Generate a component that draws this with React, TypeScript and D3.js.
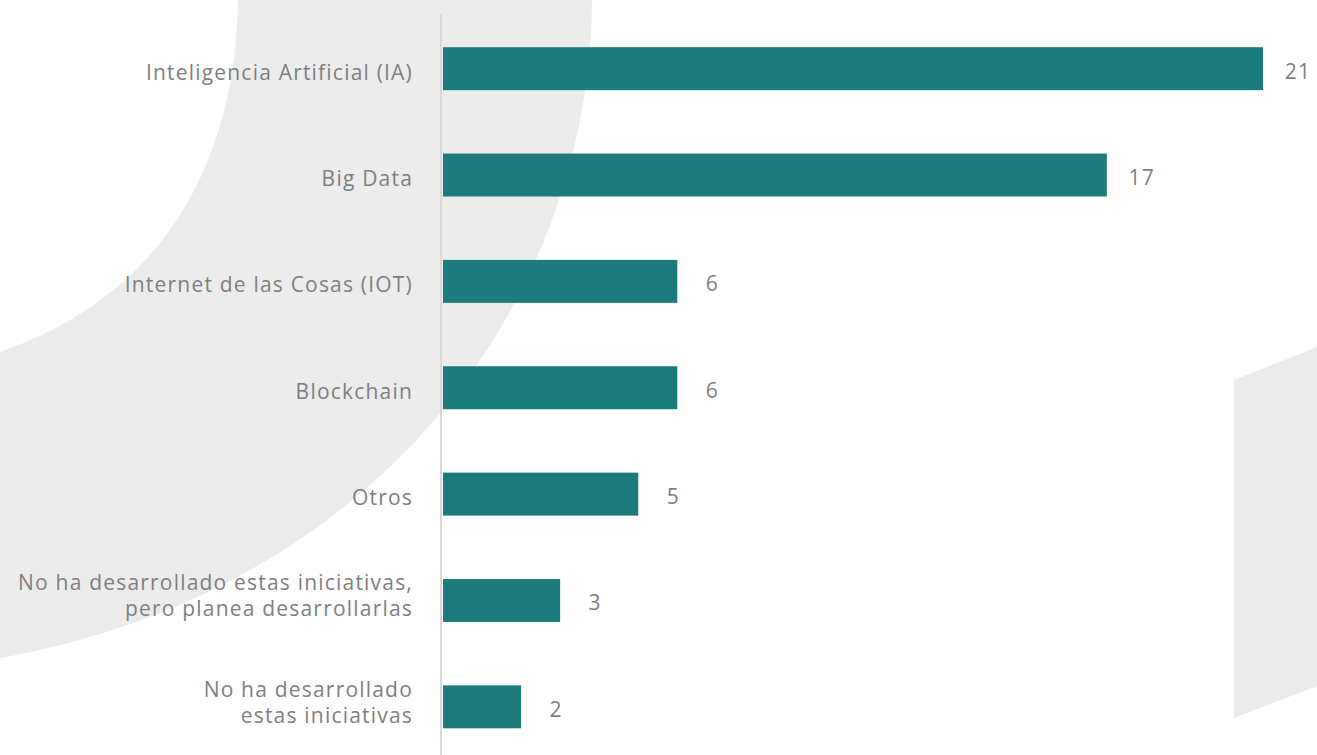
import React from "react";
import * as d3 from "d3";

const categories: string[][] = [
  ["Inteligencia Artificial (IA)"],
  ["Big Data"],
  ["Internet de las Cosas (IOT)"],
  ["Blockchain"],
  ["Otros"],
  ["No ha desarrollado estas iniciativas,", "pero planea desarrollarlas"],
  ["No ha desarrollado", "estas iniciativas"],
];
const values: number[] = [21, 17, 6, 6, 5, 3, 2];

const W = 1317;
const H = 755;
const FONT = "'Open Sans', sans-serif";
const TEXT_COLOR = "#7f7f7f";
const BAR_COLOR = "#1b7b7d";
const BG_SHAPE = "#ececec";

export default function App() {
  const ids = categories.map((_, i) => String(i));
  const x = d3.scaleLinear().domain([0, 21]).range([443, 1263]);
  const y = d3
    .scaleBand<string>()
    .domain(ids)
    .range([15.5, 760])
    .paddingInner(0.596)
    .paddingOuter(0.298);
  const bw = y.bandwidth();

  return (
    <svg
      width={W}
      height={H}
      style={{ position: "absolute", left: 0, top: 0, background: "#ffffff" }}
    >
      {/* decorative background shapes */}
      <path
        d="M238,0 C235,180 150,300 0,352 L0,658 C380,590 590,300 592,0 Z"
        fill={BG_SHAPE}
      />
      <path d="M1234,380 L1317,347 L1317,686 L1234,718 Z" fill={BG_SHAPE} />

      {/* axis line */}
      <line x1={441} x2={441} y1={14} y2={H} stroke="#d9d9d9" strokeWidth={2} />

      {values.map((v, i) => {
        const y0 = y(String(i)) as number;
        const cy = y0 + bw / 2;
        const lines = categories[i];
        const lh = 26;
        const shift = lines.length > 1 ? -5 : 3;
        return (
          <g key={i}>
            <rect x={x(0)} y={y0} width={x(v) - x(0)} height={bw} fill={BAR_COLOR} />
            <text
              x={x(v) + 35}
              y={cy + 2}
              textAnchor="middle"
              dominantBaseline="central"
              fontFamily={FONT}
              fontSize={21}
              letterSpacing={1.2}
              fill={TEXT_COLOR}
            >
              {v}
            </text>
            <text
              x={413}
              textAnchor="end"
              fontFamily={FONT}
              fontSize={21}
              letterSpacing={1.2}
              fill={TEXT_COLOR}
            >
              {lines.map((l, j) => (
                <tspan
                  key={j}
                  x={413}
                  y={cy + shift + (j - (lines.length - 1) / 2) * lh}
                  dominantBaseline="central"
                >
                  {l}
                </tspan>
              ))}
            </text>
          </g>
        );
      })}
    </svg>
  );
}
